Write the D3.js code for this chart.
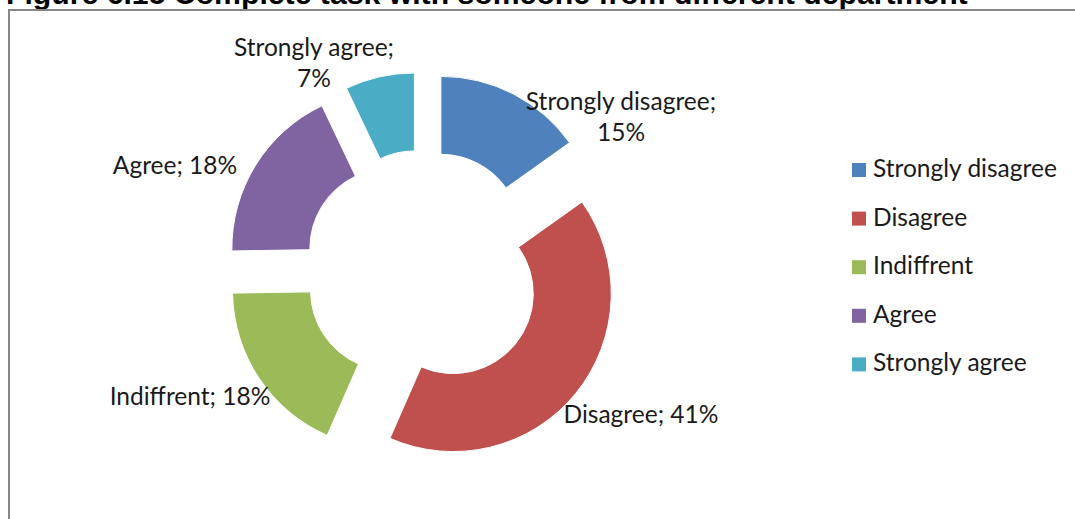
<!DOCTYPE html>
<html>
<head>
<meta charset="utf-8">
<script src="https://cdn.jsdelivr.net/npm/d3@7"></script>
<style>
  body { margin: 0; background: #fff; }
  svg { display: block; }
</style>
</head>
<body>
<svg id="chart" width="1075" height="519"></svg>
<script>
// ---- data ----
const categories = ["Strongly disagree", "Disagree", "Indiffrent", "Agree", "Strongly agree"];
const shares = [15, 41, 18, 18, 7];
const sliceColors = ["#4F81BD", "#C0504D", "#9BBB59", "#8064A2", "#4BACC6"];
const titleText = "Figure 6.15 Complete task with someone from different department";

// ---- layout ----
const W = 1075, H = 519;
const ring = { cx: 423, cy: 269, outer: 158, inner: 80, explode: 39 };
const legend = { x: 852, firstBaseline: 177, step: 48.6, key: 14, gap: 7 };
// data label anchors: centre x and first baseline y; "wrap" breaks after the ';'
const labelLayout = {
  "Strongly disagree": { x: 621, y: 110, wrap: true },
  "Disagree":          { x: 641, y: 423, wrap: false },
  "Indiffrent":        { x: 190, y: 405, wrap: false },
  "Agree":             { x: 175, y: 174, wrap: false },
  "Strongly agree":    { x: 314, y: 56,  wrap: true }
};
const lineGap = 31;

const svg = d3.select("#chart");
const textFont = "Lato, 'Noto Sans', sans-serif";

// fit the label font so the longest legend entry has its natural width
function measure(str, family, size, weight) {
  const t = svg.append("text").attr("font-family", family).attr("font-size", size)
    .attr("font-weight", weight || "normal").text(str);
  const w = t.node().getComputedTextLength();
  t.remove();
  return w;
}
const labelSize = 20 * 184 / measure("Strongly disagree", textFont, 20);
const titleFamily = "Arial, 'Liberation Sans', sans-serif";
const titleSize = 20 * 962 / measure(titleText, titleFamily, 20, "bold");

// title (runs off the top of the frame)
svg.append("text")
  .attr("x", 6).attr("y", 4)
  .attr("font-family", titleFamily).attr("font-weight", "bold")
  .attr("font-size", titleSize).attr("fill", "#000")
  .text(titleText);

// chart frame
svg.append("rect")
  .attr("x", 9).attr("y", 10).attr("width", W + 40).attr("height", H + 40)
  .attr("fill", "none").attr("stroke", "#878787").attr("stroke-width", 2);

// ---- exploded doughnut ----
const color = d3.scaleOrdinal().domain(categories).range(sliceColors);
const pie = d3.pie().sort(null).value(d => d.value);
const arc = d3.arc().innerRadius(ring.inner).outerRadius(ring.outer);
const rows = categories.map((c, i) => ({ category: c, value: shares[i] }));
const slices = pie(rows);

const g = svg.append("g").attr("transform", `translate(${ring.cx},${ring.cy})`);
g.selectAll("path.slice")
  .data(slices)
  .join("path")
  .attr("class", "slice")
  .attr("transform", d => {
    const mid = (d.startAngle + d.endAngle) / 2;
    return `translate(${ring.explode * Math.sin(mid)},${-ring.explode * Math.cos(mid)})`;
  })
  .attr("d", arc)
  .attr("fill", d => color(d.data.category))
  .attr("stroke", "#fff")
  .attr("stroke-width", 1);

// ---- data labels ----
const labels = svg.append("g")
  .attr("font-family", textFont).attr("font-size", labelSize)
  .attr("fill", "#1a1a1a").attr("text-anchor", "middle");
slices.forEach(d => {
  const pos = labelLayout[d.data.category];
  const lines = pos.wrap
    ? [d.data.category + ";", d.data.value + "%"]
    : [d.data.category + "; " + d.data.value + "%"];
  const t = labels.append("text").attr("x", pos.x).attr("y", pos.y);
  lines.forEach((ln, i) => {
    t.append("tspan").attr("x", pos.x).attr("y", pos.y + i * lineGap).text(ln);
  });
});

// ---- legend ----
const lg = svg.append("g");
const item = lg.selectAll("g.item")
  .data(categories)
  .join("g")
  .attr("class", "item")
  .attr("transform", (d, i) => `translate(${legend.x},${legend.firstBaseline + i * legend.step})`);
item.append("rect")
  .attr("x", 0).attr("y", -legend.key)
  .attr("width", legend.key).attr("height", legend.key)
  .attr("fill", d => color(d));
item.append("text")
  .attr("x", legend.key + legend.gap).attr("y", 0)
  .attr("font-family", textFont).attr("font-size", labelSize)
  .attr("fill", "#1a1a1a")
  .text(d => d);
</script>
</body>
</html>
